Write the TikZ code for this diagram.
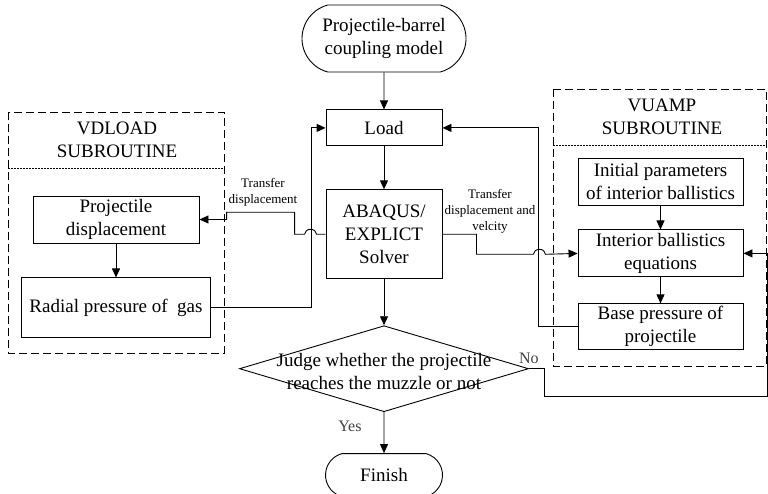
\documentclass[tikz,border=0pt]{standalone}
\usepackage{fontspec}
\setmainfont{Liberation Serif}
\usetikzlibrary{shapes.geometric, shapes.misc, positioning, arrows.meta}
\tikzset{
	x=1pt, y=-1pt, % one unit is one pixel of the layout, y runs downwards
	>={Triangle[length=9pt, width=8pt]}, % filled arrow heads on every connector
	every node/.style={font=\fontsize{19}{23}\selectfont, inner sep=0pt},
	terminal/.style={draw, rounded rectangle, rounded rectangle arc length=150, minimum width=164pt, minimum height=67pt, align=center}, % start and end
	process/.style={draw, rectangle, align=center, minimum width=116pt}, % ordinary steps
	decision/.style={draw, diamond, minimum width=289pt, minimum height=86pt}, % the question
	note/.style={font=\fontsize{13}{16}\selectfont, align=center}, % small texts on the lines
	answer/.style={font=\fontsize{16}{18}\selectfont, text=black!75},
	subbox/.style={dash pattern=on 8pt off 4pt},
	divider/.style={dash pattern=on 1.5pt off 1.5pt},
}

\begin{document}
\begin{tikzpicture}[line width=0.9pt]
	\useasboundingbox (0,0) rectangle (768,494);
	% main column
	\node[terminal] (start) at (384,38.5) {Projectile-barrel\\coupling model};
	\node[process, minimum height=36pt, below=37pt of start] (load) {Load};
	\node[process, minimum height=89pt, below=43pt of load] (solver) {ABAQUS/\\EXPLICT\\Solver};
	\node[decision, below=46pt of solver] (judge) {};
	\node[align=center] (judgetext) at ([yshift=-2.5pt]judge.center) {Judge whether the projectile\\reaches the muzzle or not};
	\node[terminal, minimum width=117pt, minimum height=43pt, below=41pt of judge] (finish) {Finish};
	% VDLOAD subroutine
	\draw[subbox] (8,112) rectangle (224,353);
	\draw[divider] (8,168) -- (224,168);
	\node[align=center] (vdload) at (117,140) {VDLOAD\\SUBROUTINE};
	\node[process, minimum width=166pt, minimum height=47pt] (disp) at (116,219.5) {Projectile\\displacement};
	\node[process, minimum width=189pt, minimum height=60pt, below=34pt of disp] (radial) {Radial pressure of \ gas};
	% VUAMP subroutine
	\draw[subbox] (553,89) rectangle (766,366);
	\draw[divider] (553,145) -- (766,145);
	\node[align=center] (vuamp) at (662,117) {VUAMP\\SUBROUTINE};
	\node[process, minimum width=165pt, minimum height=47pt] (init) at (660.5,181.5) {Initial parameters\\of interior ballistics};
	\node[process, minimum width=165pt, minimum height=47pt, below=24pt of init] (eqn) {Interior ballistics\\equations};
	\node[process, minimum width=165pt, minimum height=46pt, below=26pt of eqn] (base) {Base pressure of\\projectile};
	% connectors
	\draw[->] (start) -- (load);
	\draw[->] (load) -- (solver);
	\draw[->] (solver) -- (judge);
	\draw[->] (judge) -- node[answer, left=22pt, pos=0.34] {Yes} (finish);
	\draw[->] (disp) -- (radial);
	\draw[->] (init) -- (eqn);
	\draw[->] (eqn) -- (base);
	\draw[->] (radial.east) -- ++(100,0) |- (load.west);
	\draw[->] (base.west) -- ++(-39,0) |- (load.east);
	\draw[->] (solver.west) -- ++(-9,0) arc[start angle=0, end angle=-180, x radius=6, y radius=5] -- ++(-10,0) -- ++(0,-22) -- ++(-68,0) |- (disp.east);
	\draw[->] (solver.east) -- ++(34,0) -- ++(0,20) -- ++(57,0) arc[start angle=180, end angle=360, x radius=6, y radius=5] -- (eqn.west);
	\draw[->] (judge.east) -- ++(15,0) -- ++(0,28) -- ++(223.5,0) |- (eqn.east);
	% labels
	\node[answer, above=5pt of judge.east] (no) {No};
	\node[note] (tdisp) at (263,192) {Transfer\\displacement};
	\node[note] (tvel) at (490,211) {Transfer\\displacement and\\velcity};
\end{tikzpicture}
\end{document}
